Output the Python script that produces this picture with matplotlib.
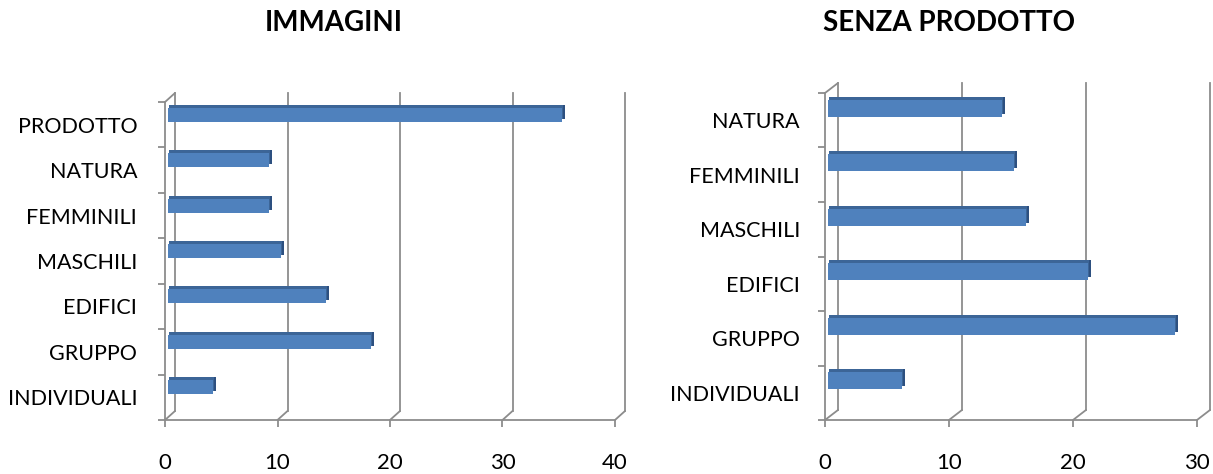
import matplotlib
matplotlib.use('Agg')
import matplotlib.pyplot as plt
from matplotlib.transforms import offset_copy

plt.rcParams['font.family'] = ['Lato', 'DejaVu Sans']

# data (top to bottom as shown in the chart)
cats_left = ['PRODOTTO', 'NATURA', 'FEMMINILI', 'MASCHILI', 'EDIFICI', 'GRUPPO', 'INDIVIDUALI']
vals_left = [35, 9, 9, 10, 14, 18, 4]
cats_right = ['NATURA', 'FEMMINILI', 'MASCHILI', 'EDIFICI', 'GRUPPO', 'INDIVIDUALI']
vals_right = [14, 15, 16, 21, 28, 6]

grid_col = '#8c8c8c'
bar_col = '#4f81bd'
top_col = '#3c6597'
end_col = '#2d5080'

W, H = 1213, 474
fig = plt.figure(figsize=(W / 100, H / 100), dpi=100)


def panel(rect, title, title_x, cats, vals, xmax, depth, label_pad):
    ax = fig.add_axes(rect)
    n = len(cats)
    ax.set_xlim(0, xmax)
    ax.set_ylim(-0.5, n - 0.5)
    for s in ax.spines.values():
        s.set_visible(False)
    ax.patch.set_alpha(0)

    dx, dy = depth
    back = offset_copy(ax.transData, fig=fig, x=dx, y=dy, units='dots')
    ylo, yhi = -0.5, n - 0.5
    xt = list(range(0, xmax + 1, 10))

    # back wall gridlines and floor diagonals
    for xv in xt:
        ax.plot([xv, xv], [ylo, yhi], color=grid_col, lw=1.3, transform=back, clip_on=False, zorder=1)
        ax.annotate('', xy=(xv, ylo), xytext=(dx, dy), textcoords='offset pixels',
                    arrowprops=dict(arrowstyle='-', color=grid_col, lw=1.3, shrinkA=0, shrinkB=0),
                    annotation_clip=False)
    # front left axis, bottom axis, top connector
    ax.plot([0, 0], [ylo, yhi], color=grid_col, lw=1.3, clip_on=False, zorder=1)
    ax.plot([0, xmax], [ylo, ylo], color=grid_col, lw=1.3, clip_on=False, zorder=1)
    ax.annotate('', xy=(0, yhi), xytext=(dx, dy), textcoords='offset pixels',
                arrowprops=dict(arrowstyle='-', color=grid_col, lw=1.3, shrinkA=0, shrinkB=0),
                annotation_clip=False)

    # bars with a simple 3D look: end face, top face, front face
    ypos = [n - 1 - i + 0.22 for i in range(n)]
    ends = ax.barh(ypos, vals, height=0.31, color=end_col, zorder=2)
    for p in ends:
        p.set_transform(offset_copy(ax.transData, fig=fig, x=6, y=3, units='dots'))
        p.set_clip_on(False)
    tops = ax.barh(ypos, vals, height=0.31, color=top_col, zorder=2.5)
    for p in tops:
        p.set_transform(offset_copy(ax.transData, fig=fig, x=4, y=3, units='dots'))
        p.set_clip_on(False)
    front = ax.barh(ypos, vals, height=0.31, color=bar_col, zorder=3)
    for p in front:
        p.set_transform(offset_copy(ax.transData, fig=fig, x=3, y=0, units='dots'))
        p.set_clip_on(False)

    # ticks
    ax.set_xticks(xt)
    ax.set_xticklabels([str(v) for v in xt])
    ax.tick_params(axis='x', direction='out', length=5, width=1.3, color=grid_col,
                   pad=19, labelsize=16, labelcolor='black')
    ax.set_yticks([n - 1 - i for i in range(n)])
    ax.set_yticklabels(cats)
    ax.tick_params(axis='y', which='major', length=0, pad=label_pad, labelsize=15.5, labelcolor='black')
    ax.set_yticks([k - 0.5 for k in range(n + 1)], minor=True)
    ax.tick_params(axis='y', which='minor', direction='out', length=5, width=1.3, color=grid_col)

    fig.text(title_x, 1 - 23 / H, title, ha='center', va='center', fontsize=20, fontweight='bold')
    return ax


panel([165 / W, 1 - 420 / H, 450 / W, 318 / H], 'IMMAGINI', 334 / W,
      cats_left, vals_left, 40, (10, 9), 20)
panel([825 / W, 1 - 420 / H, 372 / W, 327 / H], 'SENZA PRODOTTO', 949 / W,
      cats_right, vals_right, 30, (13, 10), 18)

fig.savefig('out.png', dpi=100)
